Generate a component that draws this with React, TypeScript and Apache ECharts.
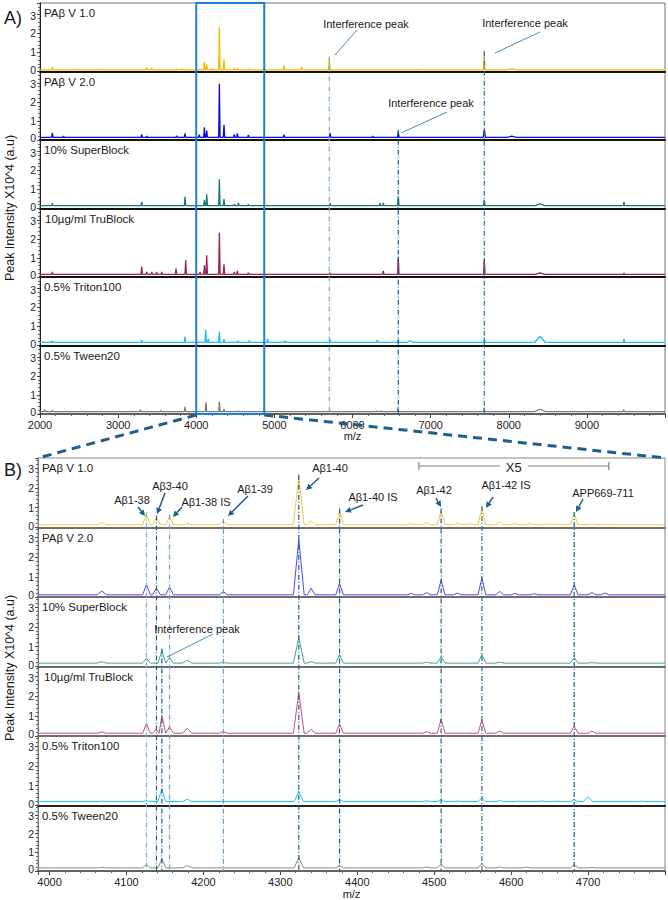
import React, { useEffect, useRef } from 'react';
import * as echarts from 'echarts';

const FONT = 'Liberation Sans, Arial, sans-serif';

const PANEL_NAMES = ['PAβ V 1.0', 'PAβ V 2.0', '10% SuperBlock', '10µg/ml TruBlock', '0.5% Triton100', '0.5% Tween20'];
const COLORS_A = ['#f2bd00', '#0b0be0', '#127a70', '#97234f', '#17c0ee', '#7a7a7a'];
const COLORS_B = ['#f5c63c', '#4a4af0', '#35a89b', '#c84d7b', '#22c6f2', '#8a8a8a'];

const A_RANGE = [2000, 10000];
const B_RANGE = [3985, 4800];
const ZOOM_BOX = [4000, 4870];
const X5_RANGE = [4480, 4727];
const Y_TITLE = 'Peak Intensity X10^4 (a.u)';

// peaks: [m/z, intensity (x10^4), optional half-width]
const A_V1 = [[2158,0.23],[2480,0.12],[2760,0.12],[3366,0.2],[3430,0.18],[3750,0.13],[3814,0.13],[4048,0.14],[4104,0.5],[4134,0.37],[4206,0.17],[4296,2.35],[4355,0.65],[4487,0.15],[4526,0.17],[4667,0.14],[5123,0.33],[5350,0.23],[5703,0.68],[6898,0.12],[7687,0.98],[8038,0.14,60]];
const A_V2 = [[2158,0.38],[2300,0.2],[3302,0.3],[3366,0.2],[3750,0.22],[3856,0.35],[4039,0.28],[4104,0.67],[4134,0.5],[4296,2.95],[4355,0.8],[4487,0.3],[4526,0.35],[4667,0.26],[5123,0.28],[5712,0.38],[6260,0.2],[6586,0.44],[7687,0.56,14],[8038,0.2,60]];
const A_SB = [[2158,0.28],[3302,0.35],[3856,0.61],[4104,0.44],[4134,0.75],[4296,1.54],[4355,0.49],[4487,0.22],[4540,0.3],[4667,0.22],[5712,0.28],[6352,0.28],[6394,0.3],[6586,0.63],[7687,0.45],[8400,0.24,60],[9475,0.35]];
const A_TB = [[2158,0.26],[3302,0.53],[3366,0.26],[3430,0.26],[3494,0.26],[3558,0.26],[3741,0.44],[3865,0.88],[4048,0.26],[4104,0.61],[4134,1.14],[4296,2.33],[4355,0.67],[4487,0.26],[4526,0.32],[4667,0.23],[5712,0.22],[6394,0.32],[6586,1.05],[7687,0.96],[8400,0.22,60],[9475,0.2]];
const A_TR = [[2158,0.25],[3302,0.3],[3856,0.47],[4121,0.82],[4154,0.35],[4296,0.74],[4355,0.33],[4538,0.25],[4679,0.26],[4914,0.35],[5136,0.25],[5712,0.33],[6318,0.3],[6586,0.35],[6736,0.25,40],[7687,0.42],[8400,0.47,70],[9475,0.35]];
const A_TW = [[2060,0.22],[2158,0.2],[3285,0.23],[3550,0.18],[3856,0.38],[4125,0.61],[4296,0.65],[4355,0.26],[4540,0.16],[5712,0.18],[6310,0.16],[6370,0.16],[6582,0.32],[7687,0.32],[8400,0.25,70],[9470,0.22]];
const A_BASE = [0.09, 0.14, 0.15, 0.14, 0.16, 0.13];

const B_V1 = [[4068,0.25,6],[4126,0.65],[4139,0.5],[4156,0.55],[4179,0.2],[4226,0.34],[4324,2.55,7],[4340,0.34],[4377,0.85],[4470,0.2],[4490,0.25],[4509,0.85],[4530,0.22],[4545,0.2],[4562,0.98],[4585,0.28],[4605,0.2],[4625,0.2],[4645,0.18],[4660,0.18],[4682,0.68],[4705,0.18],[4725,0.16]];
const B_V2 = [[4068,0.3,6],[4126,0.64],[4139,0.44],[4156,0.5],[4226,0.27],[4324,2.9,7],[4340,0.44],[4377,0.68],[4470,0.18],[4490,0.22],[4509,0.85],[4530,0.2],[4562,0.97],[4585,0.28],[4605,0.18],[4630,0.17],[4682,0.6],[4705,0.22],[4722,0.2]];
const B_SB = [[4068,0.24,6],[4126,0.42],[4146,0.8],[4156,0.45],[4179,0.32,6],[4226,0.2],[4324,1.47,7],[4340,0.25],[4377,0.6],[4490,0.22],[4509,0.5],[4562,0.6],[4585,0.22],[4682,0.45],[4705,0.2]];
const B_TB = [[4068,0.2,6],[4126,0.63],[4139,0.34],[4146,1.02],[4156,0.46],[4179,0.39,6],[4226,0.22],[4324,2.2,7],[4340,0.34],[4377,0.6],[4490,0.22],[4509,0.85],[4562,0.8],[4585,0.25],[4682,0.5],[4705,0.25]];
const B_TR = [[4068,0.22,6],[4126,0.24],[4146,0.83],[4179,0.32,6],[4324,0.71,6],[4377,0.3],[4490,0.24],[4509,0.29],[4530,0.22],[4562,0.39],[4585,0.25],[4610,0.22],[4640,0.23],[4660,0.22],[4682,0.29],[4700,0.46,6],[4770,0.22]];
const B_TW = [[4068,0.2,6],[4126,0.37],[4146,0.68],[4179,0.29,6],[4324,0.73,6],[4377,0.29],[4490,0.22],[4509,0.39],[4562,0.39],[4585,0.22],[4620,0.21],[4682,0.34],[4705,0.2]];
const B_BASE = [0.14, 0.11, 0.17, 0.14, 0.2, 0.17];

const A_SERIES = [A_V1, A_V2, A_SB, A_TB, A_TR, A_TW];
const B_SERIES = [B_V1, B_V2, B_SB, B_TB, B_TR, B_TW];

// vertical reference lines: m/z, panel where it starts (at that panel's peak), colour
const A_MARKERS = [[5703, 0, '#7fa9c9'], [6586, 1, '#1b5e8a'], [7687, 0, '#2f6f98']];
const B_MARKERS = [[4126, 0, '#7fb0c8'], [4139, 0, '#1b5e8a'], [4146, 2, '#1b5e8a'], [4156, 0, '#6fa3c2'], [4226, 0, '#6c9fc0'], [4324, 0, '#1b5e8a'], [4377, 0, '#1b5e8a'], [4509, 0, '#1b5e8a'], [4562, 0, '#2a6d96'], [4682, 0, '#1b5e8a']];

const B_LABELS = [
  { t: 'Aβ1-38', x: 132, y: 500, a: [138, 507, 145, 516] },
  { t: 'Aβ3-40', x: 170, y: 486, a: [165, 493, 157, 514] },
  { t: 'Aβ1-38 IS', x: 206, y: 502, a: [182, 507, 173, 517] },
  { t: 'Aβ1-39', x: 255, y: 489, a: [248, 496, 228, 516] },
  { t: 'Aβ1-40', x: 330, y: 468, a: [319, 478, 306, 490] },
  { t: 'Aβ1-40 IS', x: 373, y: 497, a: [363, 505, 345, 512] },
  { t: 'Aβ1-42', x: 434, y: 490, a: [436, 498, 441, 507] },
  { t: 'Aβ1-42 IS', x: 506, y: 485, a: [493, 497, 486, 508] },
  { t: 'APP669-711', x: 603, y: 493, a: [583, 499, 576, 512] },
];
const INTERFERENCE = [
  { x: 366, y: 24, l: [357, 30, 335, 55] },
  { x: 525, y: 23, l: [540, 32, 495, 53] },
  { x: 431, y: 103, l: [447, 112, 401, 133] },
  { x: 197, y: 629, l: [213, 634, 167, 657] },
];

const A_TOP = 3, A_BOTTOM = 414, B_TOP = 458, B_BOTTOM = 875;
const W = 668, H = 900;

function buildLine(peaks: number[][], base: number, hw: number, range: number[]) {
  const sorted = [...peaks].sort((p, q) => p[0] - q[0]);
  const pts: number[][] = [[range[0], base]];
  let prevRight = -Infinity;
  let prevM = 0;
  for (const p of sorted) {
    const m = p[0], h = p[1], w = p[2] ?? hw;
    const left = m - w;
    if (left <= prevRight) {
      pts.pop();
      pts.push([(prevM + m) / 2, base]);
    } else {
      pts.push([left, base]);
    }
    pts.push([m, h]);
    pts.push([m + w, base]);
    prevRight = m + w;
    prevM = m;
  }
  pts.push([range[1], base]);
  return pts;
}

function peakHeight(peaks: number[][], mz: number) {
  let best = peaks[0];
  for (const p of peaks) if (Math.abs(p[0] - mz) < Math.abs(best[0] - mz)) best = p;
  return best[1];
}

function arrow(x1: number, y1: number, x2: number, y2: number, color: string) {
  const ang = Math.atan2(y2 - y1, x2 - x1);
  const L = 6, Wd = 3;
  const bx = x2 - L * Math.cos(ang), by = y2 - L * Math.sin(ang);
  const px = -Math.sin(ang) * Wd, py = Math.cos(ang) * Wd;
  return [
    { type: 'line', silent: true, shape: { x1, y1, x2: bx, y2: by }, style: { stroke: color, lineWidth: 1.5 } },
    { type: 'polygon', silent: true, shape: { points: [[x2, y2], [bx + px, by + py], [bx - px, by - py]] }, style: { fill: color } },
  ];
}

export default function App() {
  const ref = useRef<HTMLDivElement>(null);
  useEffect(() => {
    if (!ref.current) return;
    const chart = echarts.init(ref.current, undefined, { renderer: 'svg' });
    const hA = (A_BOTTOM - A_TOP) / 6;
    const hB = (B_BOTTOM - B_TOP) / 6;
    const grids: any[] = [], xAxes: any[] = [], yAxes: any[] = [], series: any[] = [];
    for (let k = 0; k < 12; k++) {
      const isA = k < 6;
      const i = k % 6;
      const top = isA ? A_TOP + i * hA : B_TOP + i * hB;
      const h = isA ? hA : hB;
      const last = i === 5;
      const sepColor = isA ? '#111' : (i === 4 ? '#222' : '#6e6e6e');
      grids.push({ left: isA ? 40 : 38, right: 3, top, height: h, show: true, borderColor: isA ? '#777' : '#888', borderWidth: 1 });
      xAxes.push({
        type: 'value', gridIndex: k, min: isA ? A_RANGE[0] : B_RANGE[0], max: isA ? A_RANGE[1] : B_RANGE[1],
        interval: isA ? 1000 : undefined, splitNumber: isA ? undefined : 8,
        axisLine: { show: true, onZero: false, lineStyle: { color: last ? '#444' : sepColor, width: last ? 1.5 : 2 } },
        axisTick: { show: last, length: 4, lineStyle: { color: '#444' } },
        minorTick: { show: last, splitNumber: 5, length: 2, lineStyle: { color: '#666' } },
        axisLabel: { show: last, fontSize: 11, color: '#222', fontFamily: FONT, margin: 5, showMaxLabel: false, showMinLabel: isA, formatter: (v: number) => String(v) },
        splitLine: { show: false },
        name: last ? 'm/z' : '', nameLocation: 'middle', nameGap: 16,
        nameTextStyle: { fontSize: 11, color: '#222', fontFamily: FONT },
      });
      yAxes.push({
        type: 'value', gridIndex: k, min: 0, max: isA ? 3.6 : 3.5, interval: 1,
        axisLine: { show: true, lineStyle: { color: isA ? '#222' : '#777', width: 1 } },
        axisTick: { show: true, length: 3, lineStyle: { color: '#444' } },
        minorTick: { show: true, splitNumber: 5, length: 2, lineStyle: { color: '#666' } },
        axisLabel: {
          fontSize: 10.5, color: '#222', fontFamily: FONT, margin: 4, showMaxLabel: false,
          formatter: (v: number) => (v === 0 ? '{z|0}' : v === 3 ? '{t|3}' : '{n|' + v + '}'),
          rich: {
            z: { fontSize: 10.5, fontFamily: FONT, color: '#222', padding: [0, 0, 4, 0] },
            t: { fontSize: 10.5, fontFamily: FONT, color: '#222', padding: [3, 0, 0, 0] },
            n: { fontSize: 10.5, fontFamily: FONT, color: '#222' },
          },
        },
        splitLine: { show: false },
      });
      const peaks = isA ? A_SERIES[i] : B_SERIES[i];
      series.push({
        type: 'line', xAxisIndex: k, yAxisIndex: k, showSymbol: false, symbol: 'none', clip: true,
        data: buildLine(peaks, isA ? A_BASE[i] : B_BASE[i], isA ? 9 : 5, isA ? A_RANGE : B_RANGE),
        lineStyle: { color: isA ? COLORS_A[i] : COLORS_B[i], width: isA ? 1.3 : 1 },
        itemStyle: { color: isA ? COLORS_A[i] : COLORS_B[i] },
        z: 2,
      });
    }
    chart.setOption({
      animation: false,
      backgroundColor: '#fff',
      grid: grids, xAxis: xAxes, yAxis: yAxes, series,
    });

    const g: any[] = [];
    const P = (gi: number, v: number[]) => chart.convertToPixel({ gridIndex: gi }, v) as number[];
    const txt = (text: string, x: number, y: number, size = 11, align = 'left', extra: any = {}) => ({
      type: 'text', silent: true, x, y, z: 10,
      style: { text, fontSize: size, fontFamily: FONT, fill: '#1a1a1a', textAlign: align, textVerticalAlign: 'middle', ...extra },
    });
    // panel names
    for (let i = 0; i < 6; i++) {
      g.push(txt(PANEL_NAMES[i], i === 3 ? 45 : 44, A_TOP + i * hA + 10, 11.5));
      g.push(txt(PANEL_NAMES[i], i === 3 ? 44 : 42, B_TOP + i * hB + 10, 11.5));
    }
    g.push(txt('A)', 4, 18, 18));
    g.push(txt('B)', 4, 470, 18));
    g.push({ type: 'text', silent: true, x: 10, y: 208, rotation: Math.PI / 2, style: { text: Y_TITLE, fontSize: 12.5, fontFamily: FONT, fill: '#1a1a1a', textAlign: 'center', textVerticalAlign: 'middle' } });
    g.push({ type: 'text', silent: true, x: 10, y: 668, rotation: Math.PI / 2, style: { text: Y_TITLE, fontSize: 12.5, fontFamily: FONT, fill: '#1a1a1a', textAlign: 'center', textVerticalAlign: 'middle' } });

    // vertical marker lines
    const vline = (gridStart: number, gridEnd: number, peaks: number[][], m: number, color: string) => {
      const t = P(gridStart, [m, peakHeight(peaks, m)]);
      const b = P(gridEnd, [m, 0]);
      g.push({ type: 'line', silent: true, z: 5, shape: { x1: t[0], y1: t[1] - 2, x2: b[0], y2: b[1] }, style: { stroke: color, lineWidth: 1.2, lineDash: [5, 2, 1, 2] } });
    };
    A_MARKERS.forEach(([m, p, c]: any) => vline(p, 5, A_SERIES[p], m, c));
    B_MARKERS.forEach(([m, p, c]: any) => vline(6 + p, 11, B_SERIES[p], m, c));

    // zoom box in A
    const bl = P(5, [ZOOM_BOX[0], 0]);
    const br = P(5, [ZOOM_BOX[1], 0]);
    g.push({ type: 'rect', silent: true, z: 6, shape: { x: bl[0], y: A_TOP, width: br[0] - bl[0], height: bl[1] - A_TOP }, style: { fill: 'rgba(0,0,0,0)', stroke: '#1e7fd6', lineWidth: 2 } });
    const bTopLeft = P(6, [B_RANGE[0], 3.5]);
    const bTopRight = P(6, [B_RANGE[1], 3.5]);
    g.push({ type: 'line', silent: true, z: 6, shape: { x1: bl[0], y1: bl[1] + 1, x2: bTopLeft[0], y2: bTopLeft[1] }, style: { stroke: '#1f5f8a', lineWidth: 3, lineDash: [9, 6] } });
    g.push({ type: 'line', silent: true, z: 6, shape: { x1: br[0], y1: br[1] + 1, x2: bTopRight[0], y2: bTopRight[1] }, style: { stroke: '#1f5f8a', lineWidth: 3, lineDash: [9, 6] } });

    // X5 bar
    const x5a = P(6, [X5_RANGE[0], 3.1])[0];
    const x5b = P(6, [X5_RANGE[1], 3.1])[0];
    const yb = 466;
    g.push({ type: 'line', silent: true, z: 6, shape: { x1: x5a, y1: yb, x2: x5b, y2: yb }, style: { stroke: '#808080', lineWidth: 1.2 } });
    g.push({ type: 'line', silent: true, z: 6, shape: { x1: x5a, y1: yb - 4, x2: x5a, y2: yb + 4 }, style: { stroke: '#808080', lineWidth: 1.2 } });
    g.push({ type: 'line', silent: true, z: 6, shape: { x1: x5b, y1: yb - 4, x2: x5b, y2: yb + 4 }, style: { stroke: '#808080', lineWidth: 1.2 } });
    g.push(txt('X5', (x5a + x5b) / 2, yb + 1, 13, 'center', { backgroundColor: '#fff', padding: [0, 6] }));

    // B labels + arrows
    B_LABELS.forEach((L) => {
      g.push(txt(L.t, L.x, L.y, 11, 'center'));
      arrow(L.a[0], L.a[1], L.a[2], L.a[3], '#1d5d86').forEach((e) => g.push({ ...e, z: 8 }));
    });
    INTERFERENCE.forEach((I) => {
      g.push(txt('Interference peak', I.x, I.y, 11, 'center'));
      g.push({ type: 'line', silent: true, z: 8, shape: { x1: I.l[0], y1: I.l[1], x2: I.l[2], y2: I.l[3] }, style: { stroke: '#4a8dbd', lineWidth: 1 } });
    });

    chart.setOption({ graphic: g });
    return () => chart.dispose();
  }, []);
  return <div ref={ref} style={{ position: 'fixed', left: 0, top: 0, width: W, height: H, background: '#fff' }} />;
}
